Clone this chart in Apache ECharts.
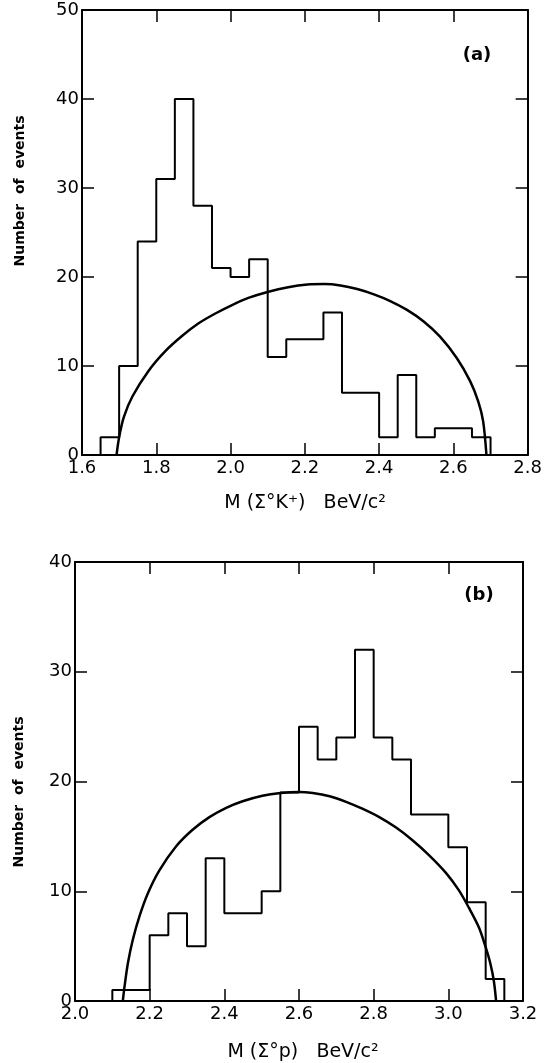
<!DOCTYPE html>
<html><head><meta charset="utf-8">
<script src="https://cdn.jsdelivr.net/npm/echarts@6/dist/echarts.min.js"></script>
<style>html,body{margin:0;padding:0;background:#fff}#c{width:545px;height:1063px}</style>
</head><body><div id="c"></div>
<script>
// ---------- data ----------
const binWidth = 0.05;
// panel (a): M(Σ°K+)
const binStartA = 1.65;
const countsA = [2,10,24,31,40,28,21,20,22,11,13,13,16,7,7,2,9,2,3,3,2];
const curveA = [[1.693,0],[1.700,2.0],[1.713,4.3],[1.736,6.6],[1.780,9.5],[1.825,11.7],[1.870,13.4],
  [1.914,14.8],[1.959,15.9],[2.004,16.85],[2.048,17.65],[2.102,18.35],[2.155,18.85],[2.207,19.15],
  [2.252,19.2],[2.296,19.05],[2.341,18.65],[2.386,18.05],[2.430,17.3],[2.475,16.3],[2.520,15.0],
  [2.564,13.3],[2.609,10.9],[2.645,8.3],[2.667,6.0],[2.680,3.8],[2.689,0]];
const xRangeA = [1.6, 2.8];
const yRangeA = [0, 50];
// panel (b): M(Σ°p)
const binStartB = 2.10;
const countsB = [1,1,6,8,5,13,8,8,10,19,25,22,24,32,24,22,17,17,14,9,2];
const curveB = [[2.128,0],[2.133,1.4],[2.142,3.5],[2.155,5.6],[2.173,7.75],[2.195,9.8],[2.226,11.9],
  [2.271,14.1],[2.315,15.6],[2.360,16.75],[2.405,17.6],[2.449,18.2],[2.502,18.7],[2.551,18.95],
  [2.600,19.05],[2.637,18.95],[2.682,18.65],[2.726,18.15],[2.771,17.5],[2.815,16.75],[2.860,15.8],
  [2.904,14.65],[2.948,13.3],[2.993,11.7],[3.028,10.1],[3.055,8.5],[3.082,6.7],[3.100,4.9],
  [3.113,3.35],[3.122,1.8],[3.128,0]];
const xRangeB = [2.0, 3.2];
const yRangeB = [0, 40];
const xTickStep = 0.2, yTickStep = 10;
const xTitleA = 'M (Σ°K\u207A)   BeV/c²';
const xTitleB = 'M (Σ°p)   BeV/c²';
const yTitle = 'Number  of  events';
const tagA = '(a)', tagB = '(b)';

// ---------- build ----------
function steps(start, w, counts){
  const pts = [[start,0]];
  counts.forEach((c,i)=>{
    const x0 = +(start + i*w).toFixed(4), x1 = +(start + (i+1)*w).toFixed(4);
    pts.push([x0,c],[x1,c]);
  });
  pts.push([+(start + counts.length*w).toFixed(4), 0]);
  return pts;
}
const FONT = 'DejaVu Sans';
function xAx(grid, range, pos, labels){
  return {type:'value', gridIndex:grid, position:pos, min:range[0], max:range[1], interval:xTickStep,
    axisLine:{show:true, onZero:false, lineStyle:{color:'#000', width:2}},
    axisTick:{show:true, inside:true, length:12, lineStyle:{color:'#000', width:1.5}},
    axisLabel:{show:labels, color:'#000', fontSize:18, fontFamily:FONT, margin:4,
      formatter:v=>v.toFixed(1)},
    splitLine:{show:false}};
}
function yAx(grid, range, pos, labels){
  return {type:'value', gridIndex:grid, position:pos, min:range[0], max:range[1], interval:yTickStep,
    axisLine:{show:true, onZero:false, lineStyle:{color:'#000', width:2}},
    axisTick:{show:true, inside:true, length:12, lineStyle:{color:'#000', width:1.5}},
    axisLabel:{show:labels, color:'#000', fontSize:18, fontFamily:FONT, margin:3},
    splitLine:{show:false}};
}
const chart = echarts.init(document.getElementById('c'), null, {renderer:'canvas'});
const lineBase = {type:'line', showSymbol:false, symbol:'none', clip:true, animation:false};
chart.setOption({
  backgroundColor:'#fff',
  animation:false,
  grid:[{left:82, right:16, top:10, height:445},
        {left:75, right:22, top:562, height:439}],
  xAxis:[xAx(0,xRangeA,'bottom',true), xAx(0,xRangeA,'top',false),
         xAx(1,xRangeB,'bottom',true), xAx(1,xRangeB,'top',false)],
  yAxis:[yAx(0,yRangeA,'left',true), yAx(0,yRangeA,'right',false),
         yAx(1,yRangeB,'left',true), yAx(1,yRangeB,'right',false)],
  series:[
    Object.assign({}, lineBase, {xAxisIndex:0, yAxisIndex:0, data:steps(binStartA,binWidth,countsA),
      lineStyle:{color:'#000', width:2}}),
    Object.assign({}, lineBase, {xAxisIndex:0, yAxisIndex:0, data:curveA, smooth:0.3,
      lineStyle:{color:'#000', width:2.5}}),
    Object.assign({}, lineBase, {xAxisIndex:2, yAxisIndex:2, data:steps(binStartB,binWidth,countsB),
      lineStyle:{color:'#000', width:2}}),
    Object.assign({}, lineBase, {xAxisIndex:2, yAxisIndex:2, data:curveB, smooth:0.3,
      lineStyle:{color:'#000', width:2.5}})
  ],
  graphic:[
    {type:'text', x:20, y:191, rotation:Math.PI/2,
      style:{text:yTitle, align:'center', verticalAlign:'middle', fill:'#000', font:'bold 14px "DejaVu Sans"'}},
    {type:'text', x:19, y:792, rotation:Math.PI/2,
      style:{text:yTitle, align:'center', verticalAlign:'middle', fill:'#000', font:'bold 14px "DejaVu Sans"'}},
    {type:'text', x:305, y:503,
      style:{text:xTitleA, align:'center', verticalAlign:'middle', fill:'#000', font:'19px "DejaVu Sans"'}},
    {type:'text', x:303, y:1052,
      style:{text:xTitleB, align:'center', verticalAlign:'middle', fill:'#000', font:'19px "DejaVu Sans"'}},
    {type:'text', x:477, y:55,
      style:{text:tagA, align:'center', verticalAlign:'middle', fill:'#000', font:'bold 18px "DejaVu Sans"'}},
    {type:'text', x:479, y:595,
      style:{text:tagB, align:'center', verticalAlign:'middle', fill:'#000', font:'bold 18px "DejaVu Sans"'}}
  ]
});
</script></body></html>
